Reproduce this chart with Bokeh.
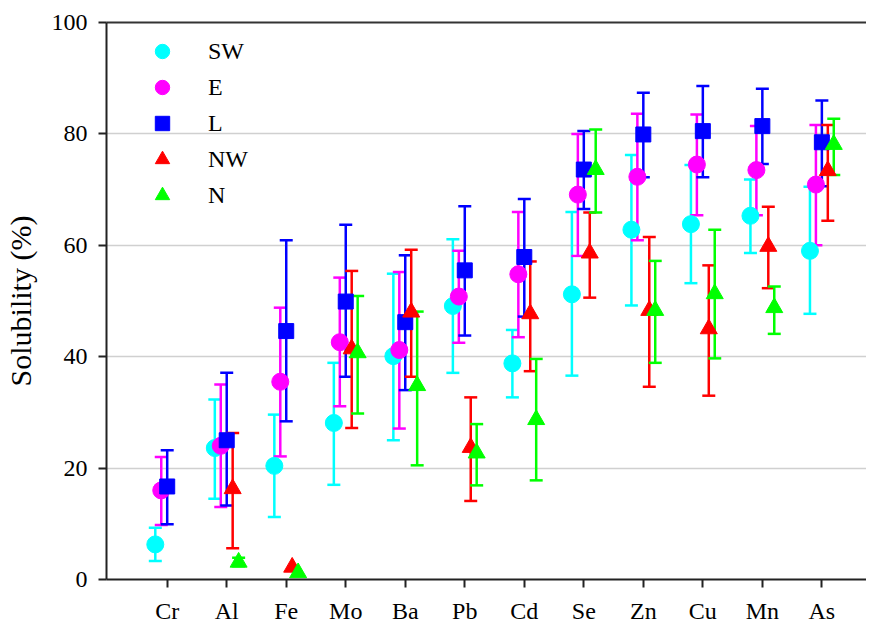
from bokeh.plotting import figure
from bokeh.models import (ColumnDataSource, Range1d, FixedTicker, LinearAxis,
                          Whisker, TeeHead, Legend, LegendItem)
from bokeh.embed import file_html
from bokeh.resources import INLINE

elements = ["Cr", "Al", "Fe", "Mo", "Ba", "Pb", "Cd", "Se", "Zn", "Cu", "Mn", "As"]
series_names = ["SW", "E", "L", "NW", "N"]
colors = ["#00FFFF", "#FF00FF", "#0000FF", "#FF0000", "#00FF00"]
markers = ["circle", "circle", "square", "triangle", "triangle"]
offsets = [-0.2, -0.1, 0.0, 0.1, 0.2]
N_ = None

sw_mean = [6.3, 23.6, 20.4, 28.1, 40.1, 49.1, 38.8, 51.2, 62.8, 63.8, 65.3, 59.0]
sw_low = [3.3, 14.5, 11.2, 17.0, 25.0, 37.1, 32.7, 36.6, 49.2, 53.2, 58.6, 47.7]
sw_high = [9.3, 32.3, 29.6, 38.9, 54.9, 61.1, 44.8, 66.0, 76.2, 74.4, 71.8, 70.5]

e_mean = [16.0, 24.0, 35.5, 42.6, 41.2, 50.8, 54.8, 69.1, 72.3, 74.5, 73.5, 70.9]
e_low = [9.8, 13.0, 22.1, 31.1, 27.1, 42.5, 43.5, 58.1, 60.9, 65.4, 65.4, 60.0]
e_high = [22.0, 35.0, 48.8, 54.2, 55.2, 59.0, 66.0, 80.0, 83.6, 83.5, 81.4, 81.6]

l_mean = [16.7, 25.0, 44.6, 49.9, 46.2, 55.5, 57.9, 73.6, 79.9, 80.5, 81.4, 78.5]
l_low = [9.9, 13.3, 28.4, 36.4, 34.0, 43.8, 47.2, 66.5, 72.2, 72.2, 74.6, 70.6]
l_high = [23.2, 37.1, 60.9, 63.7, 58.2, 67.0, 68.3, 80.5, 87.4, 88.6, 88.1, 86.0]

nw_mean = [N_, 16.3, 2.2, 41.4, 48.0, 23.7, 47.7, 58.6, 48.3, 45.0, 59.8, 73.4]
nw_low = [N_, 5.6, N_, 27.2, 36.4, 14.1, 37.4, 50.6, 34.6, 33.0, 52.3, 64.4]
nw_high = [N_, 26.3, N_, 55.4, 59.2, 32.7, 57.1, 65.9, 61.5, 56.4, 66.9, 81.6]

n_mean = [N_, 3.1, 1.2, 40.7, 34.8, 22.7, 28.7, 73.6, 48.3, 51.3, 48.8, 78.1]
n_low = [N_, 2.4, N_, 29.8, 20.5, 16.9, 17.8, 65.9, 38.9, 39.7, 44.1, 72.6]
n_high = [N_, 3.9, N_, 50.9, 48.1, 27.9, 39.6, 80.8, 57.2, 62.8, 52.6, 82.7]

y_ticks = [0, 20, 40, 60, 80, 100]

data = [
    (sw_mean, sw_low, sw_high),
    (e_mean, e_low, e_high),
    (l_mean, l_low, l_high),
    (nw_mean, nw_low, nw_high),
    (n_mean, n_low, n_high),
]

FONT = "Liberation Serif"
TICK_FS = "24px"

p = figure(width=866, height=626, output_backend="svg", toolbar_location=None,
           x_range=Range1d(-0.02, 12.75), y_range=Range1d(0, 100),
           min_border_left=103, min_border_right=0, min_border_top=22,
           min_border_bottom=46)
p.outline_line_color = None
p.background_fill_color = "white"
p.border_fill_color = "white"

p.xgrid.grid_line_color = None
p.ygrid.grid_line_color = "#d0d0d0"
p.ygrid.grid_line_width = 1.5
p.ygrid.ticker = FixedTicker(ticks=[20, 40, 60, 80])

xa = p.xaxis[0]
xa.ticker = FixedTicker(ticks=list(range(1, len(elements) + 1)))
xa.major_label_overrides = {i + 1: el for i, el in enumerate(elements)}
xa.major_label_text_font = FONT
xa.major_label_text_font_size = TICK_FS
xa.major_label_text_color = "black"
xa.major_label_standoff = 10
xa.major_tick_in = 0
xa.major_tick_out = 8
xa.minor_tick_line_color = None
xa.axis_line_width = 2
xa.major_tick_line_width = 2
xa.axis_line_color = "#222222"
xa.major_tick_line_color = "#222222"

ya = p.yaxis[0]
ya.ticker = FixedTicker(ticks=y_ticks)
ya.major_label_text_font = FONT
ya.major_label_text_font_size = TICK_FS
ya.major_label_text_color = "black"
ya.major_label_standoff = 11
ya.major_tick_in = 0
ya.major_tick_out = 8
ya.minor_tick_line_color = None
ya.axis_line_width = 2
ya.major_tick_line_width = 2
ya.axis_line_color = "#222222"
ya.major_tick_line_color = "#222222"
ya.axis_label = "Solubility (%)"
ya.axis_label_text_font = FONT
ya.axis_label_text_font_size = "30px"
ya.axis_label_text_font_style = "normal"
ya.axis_label_text_color = "black"
ya.axis_label_standoff = 12

top = LinearAxis(ticker=FixedTicker(ticks=[]), axis_line_width=2,
                 axis_line_color="#333333", major_label_text_font_size="0px",
                 minor_tick_line_color=None, major_tick_line_color=None)
p.add_layout(top, "above")

legend_items = []
for (mean, low, high), name, color, marker, off in zip(data, series_names, colors, markers, offsets):
    xs, ys = [], []
    exs, els, ehs = [], [], []
    for i, (m, lo, hi) in enumerate(zip(mean, low, high)):
        if m is None:
            continue
        xs.append(i + 1 + off)
        ys.append(m)
        if lo is not None and hi is not None:
            exs.append(i + 1 + off)
            els.append(lo)
            ehs.append(hi)
    esrc = ColumnDataSource(dict(x=exs, lower=els, upper=ehs))
    w = Whisker(source=esrc, base="x", lower="lower", upper="upper",
                line_color=color, line_width=2.5,
                upper_head=TeeHead(size=13, line_color=color, line_width=2.5),
                lower_head=TeeHead(size=13, line_color=color, line_width=2.5))
    p.add_layout(w)
    src = ColumnDataSource(dict(x=xs, y=ys))
    size = {"circle": 17, "square": 15, "triangle": 17}[marker]
    r = p.scatter("x", "y", source=src, marker=marker, size=size,
                  fill_color=color, line_color=color)
    legend_items.append(LegendItem(label=name, renderers=[r]))

legend = Legend(items=legend_items, location=(38, 366))
legend.border_line_color = None
legend.background_fill_alpha = 0
legend.label_text_font = FONT
legend.label_text_font_size = TICK_FS
legend.label_text_color = "black"
legend.label_standoff = 28
legend.glyph_width = 36
legend.glyph_height = 36
legend.spacing = 0
legend.margin = 0
legend.padding = 0
legend.label_height = 30
p.add_layout(legend)

open("out.html", "w").write(file_html(p, INLINE))
